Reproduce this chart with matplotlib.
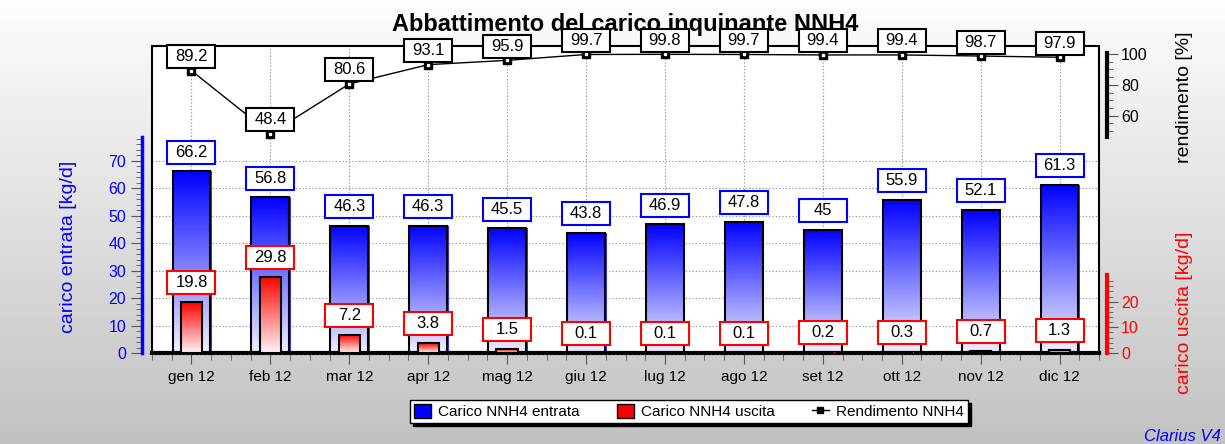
import numpy as np
import matplotlib
matplotlib.use('Agg')
import matplotlib.pyplot as plt
import matplotlib.transforms as mtransforms
from matplotlib.patches import Rectangle, Patch
from matplotlib.lines import Line2D
from matplotlib.ticker import FixedLocator

plt.rcParams['font.family'] = ['Liberation Sans', 'DejaVu Sans']

# dati
mesi = ['gen 12', 'feb 12', 'mar 12', 'apr 12', 'mag 12', 'giu 12',
        'lug 12', 'ago 12', 'set 12', 'ott 12', 'nov 12', 'dic 12']
entrata = [66.2, 56.8, 46.3, 46.3, 45.5, 43.8, 46.9, 47.8, 45, 55.9, 52.1, 61.3]
uscita = [19.8, 29.8, 7.2, 3.8, 1.5, 0.1, 0.1, 0.1, 0.2, 0.3, 0.7, 1.3]
rendimento = [89.2, 48.4, 80.6, 93.1, 95.9, 99.7, 99.8, 99.7, 99.4, 99.4, 98.7, 97.9]

fig = plt.figure(figsize=(12.25, 4.44), dpi=100)

# sfondo sfumato
bg = fig.add_axes([0, 0, 1, 1], zorder=-10)
sf = np.linspace(0.76, 0.995, 256).reshape(-1, 1)
bg.imshow(np.dstack([sf, sf, sf]), extent=[0, 1, 0, 1], aspect='auto', origin='lower')
bg.axis('off')

fig.text(0.51, 0.944, 'Abbattimento del carico inquinante NNH4', ha='center', va='center',
         fontsize=17, fontweight='bold', zorder=-1)

pos = [152 / 1225, 1 - 353 / 444, (1099 - 152) / 1225, (353 - 46) / 444]
ax = fig.add_axes(pos)
ax.set_facecolor('white')
ax_r = ax.twinx()
ax_u = ax.twinx()

x = np.arange(len(mesi))


def grad(colore_alto, colore_basso):
    t = np.linspace(0, 1, 256).reshape(-1, 1, 1)
    a = np.array(colore_alto).reshape(1, 1, 3)
    b = np.array(colore_basso).reshape(1, 1, 3)
    return b + (a - b) * t


g_blu = grad((0, 0, 1), (0.95, 0.95, 1))
g_rosso = grad((1, 0, 0), (1, 0.96, 0.96))

for xi, v in zip(x, entrata):
    # piccola ombra a destra della barra
    ax.add_patch(Rectangle((xi - 0.23, 0), 0.49, v, facecolor='#3333ff', edgecolor='none', zorder=1.5))
    ax.imshow(g_blu, extent=[xi - 0.24, xi + 0.24, 0, v], aspect='auto', origin='lower', zorder=2)
    ax.add_patch(Rectangle((xi - 0.24, 0), 0.48, v, fill=False, edgecolor='black', lw=1.5, zorder=3))

for xi, v in zip(x, uscita):
    ax_u.add_patch(Rectangle((xi - 0.125, 0), 0.275, v, facecolor='#ff3333', edgecolor='none', zorder=1.5))
    ax_u.imshow(g_rosso, extent=[xi - 0.135, xi + 0.135, 0, v], aspect='auto', origin='lower', zorder=2)
    ax_u.add_patch(Rectangle((xi - 0.135, 0), 0.27, v, fill=False, edgecolor='black', lw=1.5, zorder=3))

ax_r.plot(x, rendimento, color='black', lw=1, zorder=4)
ax_r.plot(x, rendimento, ls='none', marker='s', ms=6, mfc='black', mec='black', zorder=5)
ax_r.plot(x, rendimento, ls='none', marker='s', ms=1.5, mfc='white', mec='white', zorder=5)


def etichetta(asse, xi, yi, testo, colore, dy):
    trans = fig.dpi_scale_trans + mtransforms.ScaledTranslation(xi, yi, asse.transData)
    asse.add_patch(Rectangle((-0.24, dy), 0.48, 0.23, transform=trans, facecolor='white',
                             edgecolor=colore, lw=1.5, zorder=6, clip_on=False))
    asse.text(0, dy + 0.115, testo, transform=trans, ha='center', va='center',
              fontsize=12, zorder=7, clip_on=False)


# limiti
ax.set_xlim(-0.5, 11.5)
ax.set_ylim(0, 111.9)
ax_r.set_ylim(-93.9, 105.2)
ax_u.set_ylim(0, 119.7)
for a in (ax, ax_r, ax_u):
    a.set_autoscale_on(False)

for xi, v in zip(x, entrata):
    etichetta(ax, xi, v, f'{v:g}', 'blue', 0.076)
for xi, v in zip(x, uscita):
    etichetta(ax_u, xi, v, f'{v:g}', 'red', 0.08)
for xi, v in zip(x, rendimento):
    etichetta(ax_r, xi, v, f'{v:g}', 'black', 0.025)

# asse x
ax.set_xticks(x)
ax.set_xticklabels(mesi, fontsize=11)
minori = [m for m in np.arange(-0.5, 11.51, 0.25) if abs(m - round(m)) > 0.01]
ax.xaxis.set_minor_locator(FixedLocator(minori))
ax.tick_params(axis='x', which='major', length=8, color='#555555', direction='out', pad=4)
ax.tick_params(axis='x', which='minor', length=5, color='#555555', direction='out')

# asse entrata (blu)
ax.set_yticks(range(0, 71, 10))
ax.yaxis.set_minor_locator(FixedLocator([m for m in range(2, 79, 2) if m % 10]))
ax.tick_params(axis='y', which='major', length=8, color='#555555', labelcolor='blue', labelsize=11.5)
ax.tick_params(axis='y', which='minor', length=4, color='#555555')
ax.spines['left'].set_position(('outward', 7.2))
ax.spines['left'].set_bounds(0, 78.8)
ax.spines['left'].set_color('blue')
ax.spines['left'].set_linewidth(2.5)
ax.spines['top'].set_visible(False)
ax.spines['right'].set_visible(False)
ax.spines['bottom'].set_linewidth(3)
ax.axhline(0, color='white', lw=1, ls=(0, (1, 2)), zorder=4, clip_on=False)
ax.grid(True, color='#888888', ls=(0, (1, 2)), lw=0.8)
ax.set_axisbelow(True)
ax.add_patch(Rectangle((0, 0), 1, 1, transform=ax.transAxes, fill=False, edgecolor='black',
                       lw=1.5, zorder=10, clip_on=False))

# assi destra
for a, col, lim, maj, mino in ((ax_r, 'black', (46.3, 100.6), [60, 80, 100],
                                [m for m in range(50, 101, 5) if m % 20]),
                               (ax_u, 'red', (0, 30.4), [0, 10, 20],
                                [m for m in range(2, 31, 2) if m % 10])):
    for s in ('left', 'top', 'bottom'):
        a.spines[s].set_visible(False)
    a.spines['right'].set_position(('outward', 5.8))
    a.spines['right'].set_bounds(*lim)
    a.spines['right'].set_color(col)
    a.spines['right'].set_linewidth(3)
    a.set_yticks(maj)
    a.yaxis.set_minor_locator(FixedLocator(mino))
    a.tick_params(axis='y', which='major', length=8, color='#555555', labelcolor=col,
                  labelsize=11.5, pad=2)
    a.tick_params(axis='y', which='minor', length=4, color='#555555')

fig.text(0.056, 0.444, 'carico entrata [kg/d]', rotation=90, ha='center', va='center',
         fontsize=14, color='blue')
fig.text(0.967, 0.782, 'rendimento [%]', rotation=90, ha='center', va='center',
         fontsize=14, color='black')
fig.text(0.967, 0.295, 'carico uscita [kg/d]', rotation=90, ha='center', va='center',
         fontsize=14, color='red')

handles = [Patch(facecolor='blue', edgecolor='black'),
           Patch(facecolor='red', edgecolor='black'),
           Line2D([], [], color='black', marker='s', ms=5, lw=1)]
labels = ['Carico NNH4 entrata', 'Carico NNH4 uscita', 'Rendimento NNH4']
fig.legend(handles, labels, loc='lower left', mode='expand',
           bbox_to_anchor=(410 / 1225, 1 - 423 / 444, 558 / 1225, 27 / 444), ncol=3,
           fancybox=False, edgecolor='black', framealpha=1, fontsize=11,
           shadow={'color': 'black', 'alpha': 1}, handlelength=1.1, handleheight=1.1,
           handletextpad=0.5, borderpad=0.25, borderaxespad=0)

fig.text(0.9965, 0.016, 'Clarius V4', ha='right', va='center', fontsize=12,
         style='italic', color='blue')

fig.savefig('out.png', dpi=100)
